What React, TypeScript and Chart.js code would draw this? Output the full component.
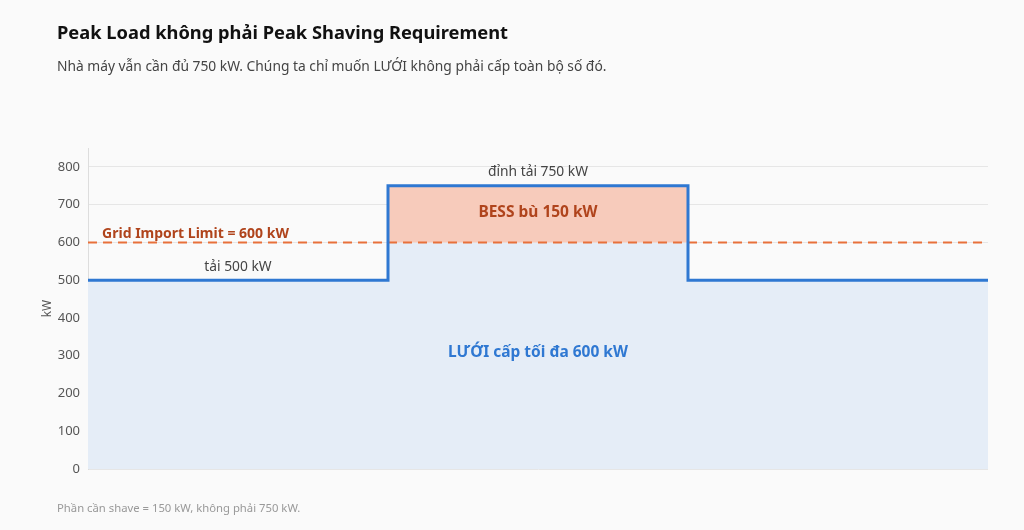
import React, { useEffect, useRef } from "react";
import { Chart, registerables } from "chart.js";

Chart.register(...registerables);

const TITLE = "Peak Load không phải Peak Shaving Requirement";
const SUBTITLE = "Nhà máy vẫn cần đủ 750 kW. Chúng ta chỉ muốn LƯỚI không phải cấp toàn bộ số đó.";
const FOOTER = "Phần cần shave = 150 kW, không phải 750 kW.";

const stepX = [0, 1, 1, 2, 2, 3];
const loadKW = [500, 500, 750, 750, 500, 500];
const gridKW = [500, 500, 600, 600, 500, 500];
const bessX = [1, 2];
const bessTop = [750, 750];
const bessBase = [600, 600];
const limitKW = 600;
const limitX = [0, 3];
const yMax = 850;
const yTicks = [0, 100, 200, 300, 400, 500, 600, 700, 800];

const labelTexts = ["Grid Import Limit = 600 kW", "tải 500 kW", "đỉnh tải 750 kW", "BESS bù 150 kW", "LƯỚI cấp tối đa 600 kW"];
const labelX = [0.047, 0.5, 1.5, 1.5, 1.5];
const labelY = [622, 535, 785, 680, 308];

const FONT = "'Noto Sans', 'Open Sans', sans-serif";

export default function App() {
  const ref = useRef<HTMLCanvasElement | null>(null);
  useEffect(() => {
    if (!ref.current) return;
    const labelPlugin = {
      id: "labels",
      afterDatasetsDraw(chart: any) {
        const { ctx, scales } = chart;
        const xs = scales.x, ys = scales.y;
        const styles = [
          { font: `bold 14px ${FONT}`, color: "#b0441c", align: "left" },
          { font: `13.8px ${FONT}`, color: "#444444", align: "center" },
          { font: `13.8px ${FONT}`, color: "#444444", align: "center" },
          { font: `bold 15.5px ${FONT}`, color: "#b0441c", align: "center" },
          { font: `bold 15.5px ${FONT}`, color: "#2f78d2", align: "center" },
        ];
        ctx.save();
        ctx.textBaseline = "middle";
        labelTexts.forEach((t, i) => {
          const s = styles[i];
          ctx.font = s.font;
          ctx.fillStyle = s.color;
          ctx.textAlign = s.align;
          ctx.fillText(t, xs.getPixelForValue(labelX[i]), ys.getPixelForValue(labelY[i]));
        });
        ctx.restore();
      },
    };
    const chart = new Chart(ref.current, {
      type: "line",
      data: {
        datasets: [
          {
            label: "grid",
            data: stepX.map((x, i) => ({ x, y: gridKW[i] })),
            borderWidth: 0,
            pointRadius: 0,
            backgroundColor: "#e5edf7",
            fill: "origin",
            order: 4,
          },
          {
            label: "bessBase",
            data: bessX.map((x, i) => ({ x, y: bessBase[i] })),
            borderWidth: 0,
            pointRadius: 0,
            fill: false,
            order: 3,
          },
          {
            label: "bess",
            data: bessX.map((x, i) => ({ x, y: bessTop[i] })),
            borderWidth: 0,
            pointRadius: 0,
            backgroundColor: "#f7cbbb",
            fill: "-1",
            order: 2,
          },
          {
            label: "limit",
            data: limitX.map((x) => ({ x, y: limitKW })),
            borderColor: "#e8703a",
            borderWidth: 2,
            borderDash: [9, 6],
            pointRadius: 0,
            fill: false,
            order: 1,
          },
          {
            label: "load",
            data: stepX.map((x, i) => ({ x, y: loadKW[i] })),
            borderColor: "#2f78d2",
            borderWidth: 3,
            pointRadius: 0,
            fill: false,
            order: 0,
          },
        ],
      },
      options: {
        animation: false,
        responsive: false,
        layout: { padding: { left: 36, right: 36, top: 148, bottom: 61 } },
        plugins: { legend: { display: false }, tooltip: { enabled: false } },
        scales: {
          x: { type: "linear", min: 0, max: 3, display: false },
          y: {
            min: 0,
            max: yMax,
            ticks: { color: "#555555", font: { family: FONT, size: 13 }, padding: 8 },
            afterBuildTicks(scale: any) {
              scale.ticks = yTicks.map((v) => ({ value: v }));
            },
            grid: { color: "#e6e6e6", drawTicks: false },
            border: { color: "#dddddd" },
            title: { display: true, text: "kW", color: "#555555", font: { family: FONT, size: 12 } },
            afterFit(scale: any) {
              scale.width = 52;
            },
          },
        },
      },
      plugins: [labelPlugin],
    });
    return () => chart.destroy();
  }, []);

  return (
    <div style={{ position: "fixed", left: 0, top: 0, width: 1024, height: 530, background: "#fafafa", fontFamily: FONT }}>
      <canvas ref={ref} width={1024} height={530} style={{ position: "absolute", left: 0, top: 0 }} />
      <div style={{ position: "absolute", left: 57, top: 19, fontSize: 18.3, fontWeight: 700, color: "#111111", whiteSpace: "nowrap" }}>{TITLE}</div>
      <div style={{ position: "absolute", left: 57, top: 56, fontSize: 13.8, color: "#444444", whiteSpace: "nowrap" }}>{SUBTITLE}</div>
      <div style={{ position: "absolute", left: 57, top: 500, fontSize: 11.3, color: "#999999", whiteSpace: "nowrap" }}>{FOOTER}</div>
    </div>
  );
}
